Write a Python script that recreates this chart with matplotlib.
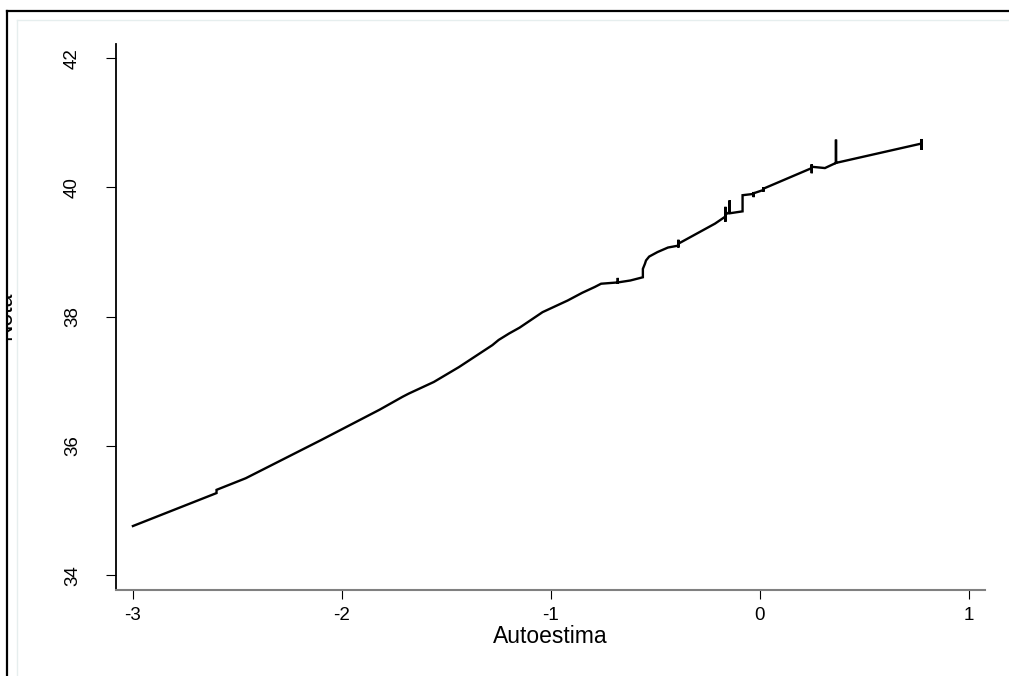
import numpy as np
import matplotlib.pyplot as plt
from matplotlib.lines import Line2D
from matplotlib.patches import Rectangle

plt.rcParams['font.family'] = ['Liberation Sans', 'DejaVu Sans']

# curva Nota ~ Autoestima (valores repetidos en x = saltos verticales)
autoestima = [-3.00, -2.60, -2.60, -2.46, -2.10, -1.82, -1.71, -1.68, -1.56, -1.44,
              -1.28, -1.25, -1.20, -1.15, -1.04, -0.92, -0.85, -0.79, -0.76,
              -0.68, -0.68, -0.68, -0.62, -0.56, -0.56, -0.55, -0.545, -0.53,
              -0.49, -0.44, -0.39, -0.39, -0.39, -0.39, -0.215,
              -0.165, -0.165, -0.165, -0.165, -0.145, -0.145, -0.145,
              -0.083, -0.083, -0.03, -0.03, -0.03, -0.03,
              0.016, 0.016, 0.016, 0.016, 0.248, 0.248, 0.248, 0.248,
              0.311, 0.364, 0.364, 0.364, 0.774, 0.774, 0.774, 0.774]
nota = [34.76, 35.27, 35.32, 35.50, 36.09, 36.56, 36.76, 36.81, 36.99, 37.22,
        37.56, 37.64, 37.74, 37.83, 38.07, 38.25, 38.37, 38.46, 38.51,
        38.53, 38.60, 38.53, 38.56, 38.61, 38.74, 38.82, 38.87, 38.93,
        39.00, 39.07, 39.10, 39.19, 39.07, 39.13, 39.44,
        39.55, 39.70, 39.47, 39.58, 39.62, 39.80, 39.60,
        39.63, 39.88, 39.90, 39.93, 39.85, 39.91,
        39.96, 40.00, 39.93, 39.98, 40.30, 40.36, 40.22, 40.32,
        40.30, 40.38, 40.74, 40.38, 40.68, 40.58, 40.75, 40.70]

xticks = [-3, -2, -1, 0, 1]
yticks = [34, 36, 38, 40, 42]

W, H = 1009, 676
fig = plt.figure(figsize=(W / 100, H / 100), dpi=100)
ax = fig.add_axes([116 / W, 1 - 590 / H, (985 - 116) / W, (590 - 44) / H])

ax.plot(autoestima, nota, color='black', lw=1.7, solid_joinstyle='miter')

ax.set_xlim(-3.081, 1.077)
ax.set_ylim(33.77, 42.22)
ax.set_xticks(xticks)
ax.set_xticklabels([str(t) for t in xticks])
ax.set_yticks(yticks)
ax.set_yticklabels([str(t) for t in yticks], rotation=90, va='center')

ax.spines['top'].set_visible(False)
ax.spines['right'].set_visible(False)
ax.spines['left'].set_linewidth(1.3)
ax.spines['bottom'].set_linewidth(1.5)
ax.spines['bottom'].set_color('#808080')
ax.tick_params(axis='x', length=6.5, width=0.8, pad=6, labelsize=13.5)
ax.tick_params(axis='y', length=7.2, width=0.8, pad=18, labelsize=13.5)

ax.set_xlabel('Autoestima', fontsize=16.5, va='center')
ax.xaxis.set_label_coords(0.5, -0.0845)

# etiqueta "Nota" recortada por el borde
fig.text(16 / W, 1 - 316 / H, 'Nota', rotation=90, ha='right', va='center', fontsize=16.5)

# bordes del marco
fig.patches.append(Rectangle((0, 0), 6 / W, 1, transform=fig.transFigure,
                             facecolor='white', edgecolor='none', zorder=5))
fig.lines.append(Line2D([17.3 / W, 17.3 / W], [0, 1 - 20 / H], transform=fig.transFigure,
                        color='#e6eeee', lw=1, zorder=6))
fig.lines.append(Line2D([17.3 / W, 1], [1 - 20 / H, 1 - 20 / H], transform=fig.transFigure,
                        color='#e6eeee', lw=1, zorder=6))
fig.lines.append(Line2D([7 / W, 7 / W], [0, 1 - 11 / H], transform=fig.transFigure,
                        color='black', lw=1.6, zorder=7))
fig.lines.append(Line2D([7 / W, 1], [1 - 11 / H, 1 - 11 / H], transform=fig.transFigure,
                        color='black', lw=1.6, zorder=7))

fig.savefig('out.png', dpi=100)
